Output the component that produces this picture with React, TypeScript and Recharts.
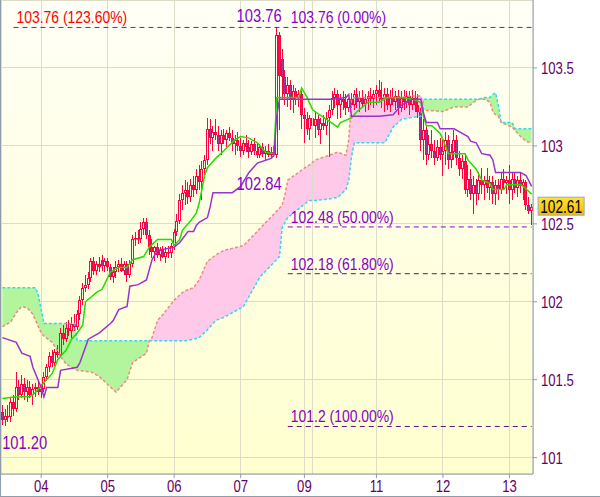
import React from 'react';
import {
  ComposedChart,
  Bar,
  Line,
  Area,
  XAxis,
  YAxis,
  CartesianGrid,
  ReferenceLine,
  ReferenceDot,
} from 'recharts';

// hourly candles [open, high, low, close], grouped by the day label they fall under
const seg03 = [
  [101.29, 101.34, 101.21, 101.24], [101.24, 101.31, 101.2, 101.27], [101.27, 101.34, 101.23, 101.26],
  [101.26, 101.38, 101.23, 101.36], [101.36, 101.4, 101.27, 101.31], [101.31, 101.55, 101.29, 101.45],
  [101.45, 101.5, 101.37, 101.4], [101.4, 101.53, 101.38, 101.47], [101.47, 101.51, 101.37, 101.42],
  [101.42, 101.5, 101.36, 101.45], [101.45, 101.49, 101.38, 101.4], [101.4, 101.47, 101.34, 101.44],
  [101.44, 101.48, 101.39, 101.45], [101.45, 101.5, 101.4, 101.42],
];
const seg04 = [
  [101.42, 101.47, 101.38, 101.44], [101.44, 101.55, 101.42, 101.52], [101.52, 101.6, 101.49, 101.58],
  [101.58, 101.68, 101.55, 101.65], [101.65, 101.69, 101.58, 101.61], [101.61, 101.7, 101.59, 101.68],
  [101.68, 101.72, 101.64, 101.66], [101.66, 101.83, 101.65, 101.8], [101.8, 101.85, 101.72, 101.76],
  [101.76, 101.87, 101.74, 101.83], [101.83, 101.88, 101.78, 101.81], [101.81, 101.9, 101.77, 101.86],
  [101.86, 101.92, 101.81, 101.84], [101.84, 101.95, 101.82, 101.92], [101.92, 102.04, 101.88, 102.01],
  [102.01, 102.12, 101.98, 102.09], [102.09, 102.17, 102.06, 102.11], [102.11, 102.19, 102.08, 102.15],
  [102.15, 102.28, 102.13, 102.26], [102.26, 102.29, 102.17, 102.2], [102.2, 102.26, 102.17, 102.24],
  [102.24, 102.29, 102.19, 102.22], [102.27, 102.3, 102.2, 102.23], [102.23, 102.28, 102.19, 102.26],
];
const seg05 = [
  [102.26, 102.28, 102.2, 102.22], [102.22, 102.24, 102.14, 102.16], [102.16, 102.22, 102.12, 102.19],
  [102.19, 102.26, 102.15, 102.22], [102.22, 102.27, 102.19, 102.24], [102.24, 102.28, 102.19, 102.2],
  [102.2, 102.26, 102.17, 102.24], [102.24, 102.26, 102.13, 102.17], [102.17, 102.27, 102.15, 102.24],
  [102.24, 102.43, 102.22, 102.4], [102.4, 102.45, 102.36, 102.41], [102.41, 102.46, 102.37, 102.4],
  [102.4, 102.51, 102.38, 102.47], [102.47, 102.54, 102.43, 102.51], [102.51, 102.54, 102.4, 102.43],
  [102.43, 102.46, 102.3, 102.35], [102.35, 102.4, 102.28, 102.32], [102.32, 102.36, 102.26, 102.35],
  [102.35, 102.38, 102.28, 102.3], [102.3, 102.35, 102.26, 102.33], [102.33, 102.36, 102.28, 102.29],
  [102.29, 102.35, 102.25, 102.32], [102.32, 102.36, 102.28, 102.31], [102.31, 102.38, 102.28, 102.36],
];
const seg06 = [
  [102.36, 102.47, 102.33, 102.45], [102.45, 102.56, 102.42, 102.52], [102.52, 102.69, 102.5, 102.65],
  [102.65, 102.75, 102.59, 102.7], [102.7, 102.78, 102.62, 102.72], [102.72, 102.77, 102.63, 102.67],
  [102.67, 102.79, 102.64, 102.75], [102.75, 102.81, 102.67, 102.72], [102.72, 102.85, 102.69, 102.81],
  [102.81, 102.88, 102.72, 102.77], [102.77, 102.9, 102.65, 102.85], [102.85, 102.94, 102.79, 102.91],
  [102.91, 103.18, 102.88, 103.11], [103.11, 103.17, 103.01, 103.05], [103.05, 103.13, 102.97, 103.09],
  [103.09, 103.17, 103.04, 103.07], [103.07, 103.13, 102.97, 103.01], [103.01, 103.1, 102.94, 103.07],
  [103.07, 103.11, 103.01, 103.04], [103.04, 103.1, 102.99, 103.08], [103.08, 103.12, 103.03, 103.05],
  [103.05, 103.1, 102.97, 103.01], [103.01, 103.07, 102.94, 103.04], [103.04, 103.09, 102.97, 103.0],
];
const seg07 = [
  [103.0, 103.05, 102.93, 102.97], [102.97, 103.04, 102.94, 103.02], [103.02, 103.07, 102.96, 102.99],
  [102.99, 103.04, 102.92, 102.96], [102.96, 103.03, 102.94, 103.01], [103.01, 103.05, 102.94, 102.97],
  [102.97, 103.02, 102.92, 102.94], [102.94, 103.01, 102.92, 102.99], [102.99, 103.02, 102.93, 102.95],
  [102.95, 103.0, 102.91, 102.97], [102.97, 103.01, 102.93, 102.94], [102.94, 102.99, 102.92, 102.96],
  [102.96, 103.0, 102.93, 102.94], [102.94, 103.76, 102.92, 103.71], [103.71, 103.73, 103.1, 103.45],
  [103.56, 103.62, 103.3, 103.44], [103.44, 103.49, 103.26, 103.33], [103.33, 103.44, 103.25, 103.39],
  [103.39, 103.42, 103.23, 103.3], [103.3, 103.39, 103.21, 103.35], [103.35, 103.37, 103.26, 103.31],
  [103.31, 103.36, 103.25, 103.33], [103.33, 103.35, 103.11, 103.2],
];
const seg09 = [
  [103.2, 103.24, 103.02, 103.17], [103.17, 103.22, 103.07, 103.11], [103.11, 103.2, 103.04, 103.18],
  [103.18, 103.23, 103.1, 103.13], [103.13, 103.22, 103.05, 103.17], [103.17, 103.2, 103.07, 103.1],
  [103.1, 103.18, 103.01, 103.15], [103.15, 103.2, 103.1, 103.13], [103.13, 103.22, 103.07, 103.18],
  [103.18, 103.26, 102.93, 103.23], [103.23, 103.35, 103.2, 103.31], [103.31, 103.37, 103.24, 103.33],
  [103.33, 103.36, 103.17, 103.26], [103.26, 103.33, 103.18, 103.3], [103.3, 103.35, 103.23, 103.28],
  [103.28, 103.33, 103.2, 103.24], [103.24, 103.31, 103.22, 103.3], [103.3, 103.34, 103.24, 103.26],
  [103.26, 103.36, 103.23, 103.33], [103.33, 103.37, 103.24, 103.28], [103.28, 103.35, 103.22, 103.31],
  [103.31, 103.36, 103.24, 103.27], [103.27, 103.33, 103.22, 103.3], [103.3, 103.35, 103.23, 103.32],
  [103.32, 103.37, 103.26, 103.3], [103.3, 103.36, 103.24, 103.33],
];
const seg11 = [
  [103.33, 103.39, 103.26, 103.36], [103.36, 103.42, 103.28, 103.31], [103.31, 103.41, 103.24, 103.3],
  [103.3, 103.37, 103.22, 103.33], [103.33, 103.37, 103.23, 103.26], [103.26, 103.36, 103.22, 103.31],
  [103.31, 103.37, 103.26, 103.28], [103.28, 103.35, 103.23, 103.32], [103.32, 103.36, 103.2, 103.24],
  [103.24, 103.35, 103.22, 103.31], [103.31, 103.36, 103.23, 103.28], [103.28, 103.35, 103.24, 103.32],
  [103.32, 103.35, 103.2, 103.26], [103.26, 103.36, 103.23, 103.31], [103.31, 103.35, 103.22, 103.26],
  [103.26, 103.33, 103.18, 103.22], [103.22, 103.24, 102.97, 103.04], [103.04, 103.17, 102.91, 103.1],
  [103.1, 103.13, 102.88, 102.94], [102.94, 103.07, 102.91, 103.01], [103.01, 103.1, 102.92, 102.97],
  [102.97, 103.04, 102.88, 102.92], [102.92, 103.04, 102.9, 102.99], [102.99, 103.05, 102.91, 102.94],
];
const seg12 = [
  [102.94, 103.04, 102.81, 102.97], [102.97, 103.09, 102.88, 103.04], [103.04, 103.07, 102.85, 102.91],
  [102.91, 103.01, 102.86, 102.96], [102.96, 103.1, 102.91, 103.04], [103.04, 103.07, 102.88, 102.92],
  [102.92, 102.97, 102.81, 102.85], [102.85, 102.94, 102.79, 102.9], [102.9, 102.94, 102.69, 102.72],
  [102.72, 102.88, 102.67, 102.79], [102.79, 102.85, 102.65, 102.69], [102.69, 102.81, 102.56, 102.75],
  [102.75, 102.79, 102.62, 102.69], [102.69, 102.83, 102.65, 102.78], [102.78, 102.86, 102.69, 102.75],
  [102.75, 102.81, 102.65, 102.78], [102.78, 102.86, 102.7, 102.73], [102.73, 102.81, 102.65, 102.77],
  [102.77, 102.81, 102.63, 102.69], [102.69, 102.78, 102.62, 102.75], [102.75, 102.79, 102.65, 102.72],
  [102.72, 102.83, 102.69, 102.79], [102.79, 102.85, 102.72, 102.76], [102.76, 102.81, 102.69, 102.78],
];
const seg13 = [
  [102.78, 102.88, 102.63, 102.72], [102.72, 102.83, 102.65, 102.79], [102.79, 102.83, 102.7, 102.73],
  [102.73, 102.81, 102.67, 102.78], [102.78, 102.83, 102.7, 102.74], [102.74, 102.79, 102.65, 102.77],
  [102.77, 102.78, 102.59, 102.62], [102.62, 102.67, 102.56, 102.58], [102.58, 102.63, 102.49, 102.61],
];

const candles = [...seg03, ...seg04, ...seg05, ...seg06, ...seg07, ...seg09, ...seg11, ...seg12, ...seg13];

// x axis: bar index where each label sits
const tickIndex = [14, 38, 62, 86, 109, 135, 159, 183];
const tickLabels = ['04', '05', '06', '07', '09', '11', '12', '13'];
const extraGridIndex = 112;
const yTicks = [101, 101.5, 102, 102.5, 103, 103.5];

// [bar index, value] read at the turning points of each line
const tenkan = [
  [0, 101.38], [5, 101.39], [10, 101.39], [12, 101.42], [15, 101.48], [18, 101.54], [20, 101.63],
  [23, 101.69], [25, 101.76], [27, 101.8], [29, 101.85], [30, 102.0], [34, 102.06], [36, 102.08],
  [39, 102.19], [42, 102.22], [45, 102.22], [47, 102.27], [51, 102.29], [53, 102.35], [56, 102.4],
  [61, 102.4], [62, 102.36], [64, 102.4], [65, 102.46], [68, 102.52], [70, 102.57], [71, 102.63],
  [73, 102.81], [74, 102.86], [77, 102.92], [80, 102.97], [84, 103.04], [86, 103.06], [89, 103.05],
  [92, 103.02], [95, 102.96], [98, 102.95], [99, 103.31], [107, 103.31], [108, 103.37], [110, 103.31],
  [112, 103.23], [117, 103.17], [121, 103.12], [122, 103.15], [126, 103.18], [128, 103.22],
  [132, 103.28], [136, 103.28], [139, 103.31], [144, 103.31], [148, 103.3], [151, 103.28],
  [152, 103.19], [153, 103.13], [155, 103.13], [158, 103.08], [159, 103.04], [161, 102.95],
  [167, 102.95], [168, 102.91], [171, 102.85], [173, 102.78], [176, 102.76], [177, 102.72],
  [181, 102.72], [182, 102.75], [187, 102.75], [188, 102.74], [191, 102.69],
];
const kijun = [
  [0, 101.77], [5, 101.74], [7, 101.67], [10, 101.65], [11, 101.58], [14, 101.45], [15, 101.39],
  [16, 101.45], [20, 101.45], [21, 101.56], [27, 101.58], [28, 101.61], [31, 101.76], [35, 101.8],
  [39, 101.86], [40, 101.88], [42, 101.95], [45, 101.97], [46, 102.1], [49, 102.11], [52, 102.14],
  [54, 102.27], [56, 102.33], [62, 102.35], [64, 102.38], [67, 102.45], [69, 102.45], [70, 102.49],
  [71, 102.51], [74, 102.54], [75, 102.61], [76, 102.7], [83, 102.7], [86, 102.74], [89, 102.83],
  [92, 102.89], [97, 102.92], [98, 102.94], [99, 103.19], [100, 103.3], [119, 103.3], [124, 103.31],
  [125, 103.33], [126, 103.19], [136, 103.19], [141, 103.2], [144, 103.26], [146, 103.28],
  [148, 103.3], [151, 103.3], [152, 103.21], [153, 103.15], [157, 103.15], [158, 103.11],
  [163, 103.11], [165, 103.09], [168, 103.06], [169, 103.03], [171, 103.02], [173, 102.95],
  [176, 102.94], [177, 102.91], [178, 102.83], [187, 102.83], [189, 102.81], [191, 102.74],
];
// [bar index, senkou span A, senkou span B]
const cloud = [
  [0, 102.09, 101.84], [3, 102.09, 101.87], [5, 102.09, 101.93], [7, 102.09, 101.97],
  [9, 102.09, 101.96], [11, 102.09, 101.92], [12, 102.09, 101.88], [13, 102.04, 101.84],
  [14, 101.95, 101.8], [15, 101.86, 101.78], [18, 101.86, 101.74], [21, 101.86, 101.65],
  [23, 101.86, 101.6], [26, 101.86, 101.57], [27, 101.75, 101.56], [32, 101.75, 101.55],
  [35, 101.75, 101.52], [41, 101.75, 101.42], [45, 101.75, 101.5], [47, 101.75, 101.61],
  [52, 101.75, 101.67], [53, 101.75, 101.75], [54, 101.75, 101.77], [56, 101.75, 101.88],
  [58, 101.75, 101.92], [62, 101.75, 102.01], [65, 101.75, 102.06], [66, 101.75, 102.07],
  [69, 101.76, 102.09], [71, 101.77, 102.14], [74, 101.82, 102.26], [77, 101.88, 102.3],
  [80, 101.9, 102.33], [87, 101.97, 102.36], [93, 102.16, 102.47], [100, 102.29, 102.6],
  [101, 102.48, 102.62], [102, 102.51, 102.69], [103, 102.54, 102.78], [110, 102.64, 102.87],
  [111, 102.65, 102.88], [113, 102.65, 102.91], [118, 102.66, 102.94], [121, 102.67, 102.96],
  [124, 102.72, 102.94], [125, 102.78, 103.04], [126, 102.93, 103.3], [127, 103.02, 103.31],
  [138, 103.02, 103.31], [141, 103.12, 103.31], [144, 103.17, 103.31], [147, 103.18, 103.32],
  [151, 103.19, 103.32], [152, 103.3, 103.23], [159, 103.3, 103.22], [163, 103.3, 103.25],
  [168, 103.3, 103.25], [170, 103.3, 103.28], [172, 103.3, 103.3], [174, 103.31, 103.3],
  [176, 103.31, 103.28], [177, 103.33, 103.22], [178, 103.34, 103.2], [179, 103.26, 103.19],
  [180, 103.15, 103.15], [184, 103.15, 103.12], [185, 103.11, 103.1], [187, 103.11, 103.06],
  [189, 103.11, 103.03], [191, 103.11, 103.02],
];

// fibonacci retracement (the 0% level shares its line with the 123.6% extension)
const fibLevels = [103.76, 102.48, 102.18, 101.2];
const fibLabels = ['103.76 (123.60%)', '102.48 (50.00%)', '102.18 (61.80%)', '101.2 (100.00%)'];
const fibFrom = [4, 103, 103, 103];
const fibTo = 191;
const fibZero = { i: 103, value: 103.76, text: '103.76 (0.00%)' };

const highMark = { i: 99, value: 103.76, text: '103.76' };
const midMark = { i: 99, value: 102.84, text: '102.84' };
const lowMark = { i: 1, value: 101.2, text: '101.20' };
const lastPrice = { i: 191, value: 102.61, text: '102.61' };

const FONT = "'Liberation Sans', Arial, sans-serif";
const RED = '#ff0040';
const BEAR = '#9a3a9a';
const FRAME = '#8d9dad';
const GRID = '#dedcc6';
const AXIS_TEXT = '#660066';
const LABEL = '#8800cc';
const FIB_LINE = ['#9900cc', '#9900cc', '#5c1080', '#5c1080'];
const FIB_TEXT = ['#ff0000', LABEL, LABEL, LABEL];

const tenkanMap = new Map(tenkan.map(([i, v]) => [i, v]));
const kijunMap = new Map(kijun.map(([i, v]) => [i, v]));
const cloudMap = new Map(cloud.map(([i, a, b]) => [i, [a, b]]));

const data = candles.map(([o, h, l, c], i) => {
  const row: any = { i, o, h, l, c, range: [l, h] };
  if (tenkanMap.has(i)) row.tenkan = tenkanMap.get(i);
  if (kijunMap.has(i)) row.kijun = kijunMap.get(i);
  const k = cloudMap.get(i);
  if (k) {
    const [a, b] = k;
    const top = Math.max(a, b);
    row.spanA = a;
    row.spanB = b;
    row.bull = [b, top];
    row.bear = [a, top];
  }
  return row;
});

// the original uses a narrow sans; squeeze Liberation Sans horizontally to match
const Narrow = ({ x, y, size, fill, anchor = 'start', squeeze = 0.82, children }: any) => (
  <text
    transform={`translate(${x},${y}) scale(${squeeze},1)`}
    fontSize={size}
    fill={fill}
    fontFamily={FONT}
    textAnchor={anchor}
  >
    {children}
  </text>
);

const Candle = (props: any) => {
  const { x, y, width, height, payload } = props;
  if (height == null || isNaN(height)) return null;
  const { o, h, l, c } = payload;
  const span = h - l || 1;
  const toY = (v: number) => y + ((h - v) / span) * height;
  const cx = Math.floor(x + width / 2);
  const top = Math.round(toY(Math.max(o, c)));
  const bot = Math.round(toY(Math.min(o, c)));
  const up = c >= o;
  return (
    <g>
      <line x1={cx + 0.5} x2={cx + 0.5} y1={Math.round(y)} y2={top} stroke={RED} />
      <line x1={cx + 0.5} x2={cx + 0.5} y1={bot} y2={Math.round(y + height)} stroke={RED} />
      <rect
        x={cx - 0.5}
        y={top + 0.5}
        width={2}
        height={Math.max(bot - top - 1, 0.5)}
        fill={up ? 'none' : BEAR}
        stroke={RED}
      />
    </g>
  );
};

const XTick = (p: any) => (
  <Narrow x={p.x} y={p.y + 12} size={16} fill={AXIS_TEXT} anchor="middle">
    {tickLabels[tickIndex.indexOf(p.payload.value)] ?? ''}
  </Narrow>
);

const YTick = (p: any) => (
  <Narrow x={p.x} y={p.y + 6} size={16} fill={AXIS_TEXT}>
    {String(p.payload.value)}
  </Narrow>
);

const fibLabel = (text: string, color: string) => (p: any) => (
  <Narrow x={p.viewBox.x + 3} y={p.viewBox.y - 4} size={17} fill={color}>
    {text}
  </Narrow>
);

const markLabel = (text: string, dx: number, dy: number, anchor: string) => (p: any) => (
  <Narrow x={p.viewBox.x + dx} y={p.viewBox.y + dy} size={18} fill={LABEL} anchor={anchor}>
    {text}
  </Narrow>
);

const priceTag = (text: string) => (p: any) => (
  <g>
    <defs>
      <linearGradient id="tagFill" x1="0" y1="0" x2="0" y2="1">
        <stop offset="0%" stopColor="#ffe23a" />
        <stop offset="100%" stopColor="#f2bc00" />
      </linearGradient>
    </defs>
    <rect x={p.viewBox.x + 6.5} y={p.viewBox.y - 9.5} width={46} height={18} fill="url(#tagFill)" stroke="#9aa8b8" />
    <Narrow x={p.viewBox.x + 29.5} y={p.viewBox.y + 6} size={19} squeeze={0.72} fill="#000" anchor="middle">
      {text}
    </Narrow>
  </g>
);

export default function App() {
  return (
    <div style={{ position: 'absolute', left: 0, top: 0, width: 600, height: 497, background: '#fff' }}>
      <div
        style={{
          position: 'absolute',
          left: 1,
          top: 0,
          width: 532,
          height: 474,
          background: 'linear-gradient(#fffff6, #ffffd0)',
        }}
      />
      <div style={{ position: 'absolute', left: 0, top: 0 }}>
        <ComposedChart
          width={600}
          height={497}
          data={data}
          margin={{ top: 0, right: 0, bottom: 0, left: 1 }}
          style={{ fontFamily: FONT }}
        >
          <CartesianGrid stroke={GRID} shapeRendering="crispEdges" />
          <XAxis
            dataKey="i"
            ticks={tickIndex}
            interval={0}
            tick={<XTick />}
            axisLine={{ stroke: FRAME }}
            tickLine={{ stroke: FRAME }}
            tickSize={4}
            height={23}
          />
          <YAxis
            orientation="right"
            type="number"
            domain={[100.895, 103.936]}
            allowDataOverflow
            ticks={yTicks}
            tick={<YTick />}
            axisLine={{ stroke: FRAME }}
            tickLine={{ stroke: FRAME }}
            tickSize={4}
            tickMargin={4}
            width={67}
          />
          <ReferenceLine x={extraGridIndex} stroke={GRID} shapeRendering="crispEdges" />
          <Area dataKey="bull" fill="#b2f59c" fillOpacity={1} stroke="none" connectNulls dot={false} activeDot={false} isAnimationActive={false} />
          <Area dataKey="bear" fill="#ffc9ea" fillOpacity={1} stroke="none" connectNulls dot={false} activeDot={false} isAnimationActive={false} />
          <Line dataKey="spanA" stroke="#33d8ee" strokeWidth={1.5} strokeDasharray="3 2" dot={false} activeDot={false} connectNulls isAnimationActive={false} />
          <Line dataKey="spanB" stroke="#f08a80" strokeWidth={1.5} strokeDasharray="3 2" dot={false} activeDot={false} connectNulls isAnimationActive={false} />
          <Bar dataKey="range" shape={<Candle />} isAnimationActive={false} barCategoryGap={0} />
          <Line dataKey="tenkan" stroke="#22dd00" strokeWidth={1.5} dot={false} activeDot={false} connectNulls isAnimationActive={false} />
          <Line dataKey="kijun" stroke="#9933cc" strokeWidth={1.5} dot={false} activeDot={false} connectNulls isAnimationActive={false} />
          {fibLevels.map((lv, k) => (
            <ReferenceLine
              key={k}
              segment={[{ x: fibFrom[k], y: lv }, { x: fibTo, y: lv }]}
              stroke={FIB_LINE[k]}
              strokeWidth={1}
              strokeDasharray="5 4"
              label={fibLabel(fibLabels[k], FIB_TEXT[k])}
            />
          ))}
          <ReferenceDot x={fibZero.i} y={fibZero.value} r={0} label={fibLabel(fibZero.text, LABEL)} />
          <ReferenceDot x={highMark.i} y={highMark.value} r={0} label={markLabel(highMark.text, 5, -5, 'end')} />
          <ReferenceDot x={midMark.i} y={midMark.value} r={0} label={markLabel(midMark.text, 5, 19, 'end')} />
          <ReferenceDot x={lowMark.i} y={lowMark.value} r={0} label={markLabel(lowMark.text, -3, 23, 'start')} />
          <ReferenceDot x={lastPrice.i} y={lastPrice.value} r={0} label={priceTag(lastPrice.text)} />
        </ComposedChart>
      </div>
      <div style={{ position: 'absolute', left: 0, top: 0, width: 1, height: 497, background: FRAME }} />
      <div style={{ position: 'absolute', left: 0, top: 496, width: 600, height: 1, background: FRAME }} />
    </div>
  );
}
